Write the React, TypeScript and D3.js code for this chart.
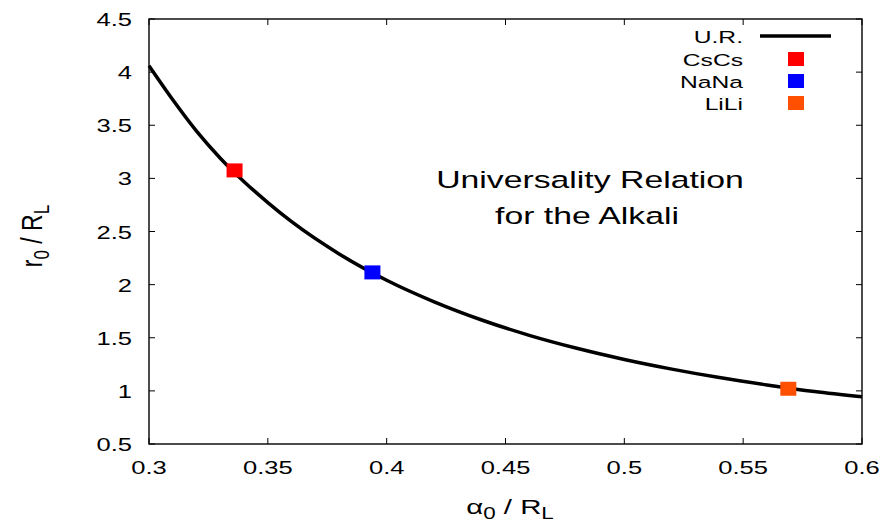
import React from "react";
import * as d3 from "d3";

const curveX = [0.30, 0.31, 0.32, 0.33, 0.34, 0.35, 0.36, 0.38, 0.40, 0.42, 0.44, 0.46, 0.48, 0.50, 0.52, 0.54, 0.56, 0.58, 0.60];
const curveY = [4.06, 3.74, 3.445, 3.19, 2.969, 2.772, 2.592, 2.289, 2.041, 1.838, 1.667, 1.523, 1.401, 1.296, 1.205, 1.125, 1.056, 0.994, 0.945];

const pointNames = ["CsCs", "NaNa", "LiLi"];
const pointX = [0.336, 0.394, 0.569];
const pointY = [3.075, 2.115, 1.02];
const pointColors = ["#ff0000", "#0000ff", "#ff4f00"];

const xTicks = [0.3, 0.35, 0.4, 0.45, 0.5, 0.55, 0.6];
const yTicks = [0.5, 1, 1.5, 2, 2.5, 3, 3.5, 4, 4.5];
const xTickLabels = ["0.3", "0.35", "0.4", "0.45", "0.5", "0.55", "0.6"];
const yTickLabels = ["0.5", "1", "1.5", "2", "2.5", "3", "3.5", "4", "4.5"];

const W = 886, H = 524;
const L = 149, R = 862, T = 19, B = 444;
const FONT = "'Liberation Sans', Arial, sans-serif";

function SText({ x, y, size, sx, anchor = "start", children, rotate = 0 }: any) {
  return (
    <text
      transform={`translate(${x},${y}) scale(${sx},1)${rotate ? ` rotate(${rotate})` : ""}`}
      fontSize={size}
      fontFamily={FONT}
      textAnchor={anchor}
      fill="#000"
    >
      {children}
    </text>
  );
}

export default function App() {
  const x = d3.scaleLinear().domain([0.3, 0.6]).range([L, R]);
  const y = d3.scaleLinear().domain([0.5, 4.5]).range([B, T]);
  const line = d3
    .line<number>()
    .x((_, i) => x(curveX[i]))
    .y((d) => y(d))
    .curve(d3.curveMonotoneX);
  const tickLen = 6;
  const legRows = [36, 59, 81, 103];
  return (
    <svg
      width={W}
      height={H}
      style={{ position: "fixed", left: 0, top: 0, background: "#fff" }}
    >
      <rect x={0} y={0} width={W} height={H} fill="#fff" />
      {xTicks.map((t, i) => (
        <g key={"xt" + i}>
          <line x1={x(t)} x2={x(t)} y1={B} y2={B - tickLen} stroke="#000" strokeWidth={1} />
          <line x1={x(t)} x2={x(t)} y1={T} y2={T + tickLen} stroke="#000" strokeWidth={1} />
          <SText x={x(t)} y={474} size={18.5} sx={1.38} anchor="middle">
            {xTickLabels[i]}
          </SText>
        </g>
      ))}
      {yTicks.map((t, i) => (
        <g key={"yt" + i}>
          <line x1={L} x2={L + tickLen} y1={y(t)} y2={y(t)} stroke="#000" strokeWidth={1} />
          <line x1={R} x2={R - tickLen} y1={y(t)} y2={y(t)} stroke="#000" strokeWidth={1} />
          <SText x={132} y={y(t) + 7} size={18.5} sx={1.38} anchor="end">
            {yTickLabels[i]}
          </SText>
        </g>
      ))}
      <rect x={L} y={T} width={R - L} height={B - T} fill="none" stroke="#000" strokeWidth={1.4} />
      <path d={line(curveY) || ""} fill="none" stroke="#000" strokeWidth={3.5} strokeLinejoin="round" />
      {pointX.map((px, i) => (
        <rect
          key={"p" + i}
          x={x(px) - 8}
          y={y(pointY[i]) - 7}
          width={16}
          height={14}
          fill={pointColors[i]}
        />
      ))}
      <SText x={743} y={legRows[0] + 6.5} size={17} sx={1.45} anchor="end">
        U.R.
      </SText>
      <line x1={760} x2={831} y1={legRows[0]} y2={legRows[0]} stroke="#000" strokeWidth={3.5} />
      {pointNames.map((n, i) => (
        <g key={"lg" + i}>
          <SText x={743} y={legRows[i + 1] + 6.5} size={17} sx={1.45} anchor="end">
            {n}
          </SText>
          <rect x={788} y={legRows[i + 1] - 7} width={16} height={14} fill={pointColors[i]} />
        </g>
      ))}
      <SText x={590} y={188} size={23.3} sx={1.45} anchor="middle">
        Universality Relation
      </SText>
      <SText x={587} y={224} size={23.3} sx={1.45} anchor="middle">
        for the Alkali
      </SText>
      <SText x={510} y={514} size={21} sx={1.4} anchor="middle">
        <tspan>α</tspan>
        <tspan fontSize={16} dy={5}>0</tspan>
        <tspan dy={-5}> / R</tspan>
        <tspan fontSize={16} dy={5}>L</tspan>
      </SText>
      <SText x={42} y={236} size={23} sx={1.3} anchor="middle" rotate={-90}>
        <tspan>r</tspan>
        <tspan fontSize={17} dy={5}>0</tspan>
        <tspan dy={-5}> / R</tspan>
        <tspan fontSize={17} dy={5}>L</tspan>
      </SText>
    </svg>
  );
}
